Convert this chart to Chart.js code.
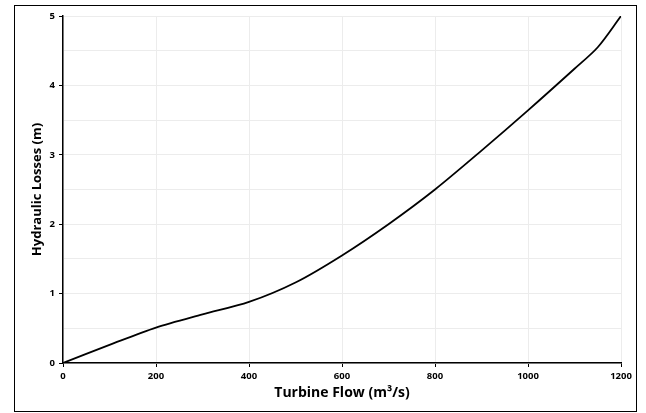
<!DOCTYPE html>
<html>
<head>
<meta charset="utf-8">
<script src="https://cdn.jsdelivr.net/npm/chart.js@4.4.1/dist/chart.umd.min.js"></script>
<style>
    body { margin: 0; background: #fff; }
    #frame {
        position: absolute;
        left: 14px;
        top: 5px;
        width: 621px;
        height: 405px;
        border: 1px solid #000;
    }
</style>
</head>
<body>
<div id="frame"><canvas id="lossChart" width="621" height="405"></canvas></div>
<script>
// Turbine flow (m3/s) and hydraulic losses (m)
const flows = [0, 100, 200, 300, 400, 500, 600, 700, 800, 900, 1000, 1100, 1150, 1200];
const losses = [0, 0.26, 0.51, 0.70, 0.88, 1.16, 1.55, 2.0, 2.5, 3.06, 3.64, 4.24, 4.55, 5.0];

const xTicks = [0, 200, 400, 600, 800, 1000, 1200];
const yTicks = [0, 1, 2, 3, 4, 5];

const tickFont = { family: 'Open Sans', size: 9.5, weight: 'bold' };

document.addEventListener('DOMContentLoaded', function() {
    const ctx = document.getElementById('lossChart').getContext('2d');

    new Chart(ctx, {
        type: 'line',
        data: {
            datasets: [{
                data: flows.map((f, i) => ({ x: f, y: losses[i] })),
                borderColor: '#000',
                borderWidth: 1.8,
                pointRadius: 0,
                fill: false,
                tension: 0.3
            }]
        },
        options: {
            responsive: false,
            animation: false,
            layout: { padding: { left: 0, top: 10, right: 15, bottom: 0 } },
            plugins: {
                legend: { display: false },
                tooltip: { enabled: false }
            },
            scales: {
                x: {
                    type: 'linear',
                    min: 0,
                    max: 1200,
                    afterBuildTicks: function(scale) {
                        scale.ticks = xTicks.map(v => ({ value: v }));
                    },
                    afterFit: function(scale) { scale.height = 48; },
                    grid: { color: '#ececec', tickColor: '#000', tickLength: 4 },
                    border: { color: '#000', width: 1.5 },
                    ticks: { color: '#000', font: tickFont, padding: 4, callback: v => String(v) },
                    title: {
                        display: true,
                        text: 'Turbine Flow (m³/s)',
                        color: '#000',
                        font: { family: 'Open Sans', size: 14, weight: 'bold' },
                        padding: { top: 0, bottom: 10 }
                    }
                },
                y: {
                    min: 0,
                    max: 5,
                    afterBuildTicks: function(scale) {
                        const t = [];
                        for (let v = 0; v <= 5; v += 0.5) t.push({ value: v });
                        scale.ticks = t;
                    },
                    afterFit: function(scale) { scale.width = 48; },
                    grid: {
                        color: '#ececec',
                        tickLength: 4,
                        tickColor: c => yTicks.includes(c.tick.value) ? '#000' : 'rgba(0,0,0,0)'
                    },
                    border: { color: '#000', width: 1.5 },
                    ticks: {
                        color: '#000',
                        font: tickFont,
                        padding: 4,
                        callback: v => yTicks.includes(v) ? String(v) : ''
                    },
                    title: {
                        display: true,
                        text: 'Hydraulic Losses (m)',
                        color: '#000',
                        font: { family: 'Open Sans', size: 13, weight: 'bold' },
                        padding: { top: 14, bottom: 0 }
                    }
                }
            }
        }
    });
});
</script>
</body>
</html>
